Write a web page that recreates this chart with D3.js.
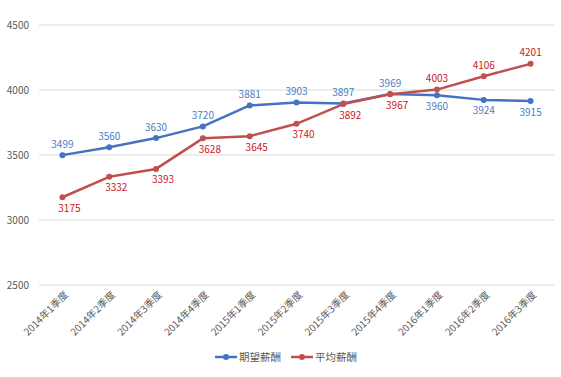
<!DOCTYPE html>
<html>
<head>
<meta charset="utf-8">
<script src="https://cdn.jsdelivr.net/npm/d3@7"></script>
<style>
  body { margin:0; background:#fff; }
  svg text { font-family: "Noto Sans CJK SC", "Noto Sans", sans-serif; }
</style>
</head>
<body>
<div id="chart"></div>
<script>
// quarterly salary line chart
const QUARTERS = ["2014年1季度","2014年2季度","2014年3季度","2014年4季度","2015年1季度","2015年2季度",
                  "2015年3季度","2015年4季度","2016年1季度","2016年2季度","2016年3季度"];
const EXPECTED = [3499,3560,3630,3720,3881,3903,3897,3969,3960,3924,3915];
const AVERAGE  = [3175,3332,3393,3628,3645,3740,3892,3967,4003,4106,4201];
const Y_TICKS  = [2500,3000,3500,4000,4500];
// label position per point: "up" above, "down" below
const EXPECTED_POS = ["up","up","up","up","up","up","up","up","down","down","down"];
const AVERAGE_POS  = ["down","down","down","down","down","down","down","down","up","up","up"];

const series = [
  { name:"期望薪酬", values:EXPECTED, pos:EXPECTED_POS, color:"#4472C4", label:"#4a7ebf" },
  { name:"平均薪酬", values:AVERAGE,  pos:AVERAGE_POS,  color:"#C0504D", label:"#c8201e" }
];

const totalW=561, totalH=377;
const margin = { top:25, right:7, bottom:92, left:39 };
const W = totalW-margin.left-margin.right, H = totalH-margin.top-margin.bottom;

const svg = d3.select("#chart").append("svg")
    .attr("width",totalW).attr("height",totalH)
    .append("g").attr("transform",`translate(${margin.left},${margin.top})`);

const x = d3.scaleBand().domain(QUARTERS).range([0,W]);
const y = d3.scaleLinear().domain([2500,4500]).range([H,0]);
const cx = d => x(d)+x.bandwidth()/2;

// gridlines
svg.append("g").selectAll("line").data(Y_TICKS).enter().append("line")
    .attr("x1",0).attr("x2",W).attr("y1",d=>y(d)).attr("y2",d=>y(d))
    .attr("stroke","#d9d9d9").attr("stroke-width",1);

// y labels
svg.append("g").selectAll("text").data(Y_TICKS).enter().append("text")
    .attr("x",-10).attr("y",d=>y(d)).attr("dy","0.35em")
    .attr("text-anchor","end").attr("fill","#595959").style("font-size","10px")
    .text(d=>d);

// x labels
svg.append("g").selectAll("text").data(QUARTERS).enter().append("text")
    .attr("transform",d=>`translate(${cx(d)+4},${H+8}) rotate(-45)`)
    .attr("text-anchor","end").attr("dy","0.35em")
    .attr("fill","#595959").style("font-size","10px")
    .text(d=>d);

const line = d3.line().x((d,i)=>cx(QUARTERS[i])).y(d=>y(d));

series.forEach(s => {
    svg.append("path").datum(s.values).attr("d",line)
        .attr("fill","none").attr("stroke",s.color).attr("stroke-width",2.5)
        .attr("stroke-linejoin","round");
    svg.append("g").selectAll("circle").data(s.values).enter().append("circle")
        .attr("cx",(d,i)=>cx(QUARTERS[i])).attr("cy",d=>y(d)).attr("r",3)
        .attr("fill",s.color);
    svg.append("g").selectAll("text").data(s.values).enter().append("text")
        .attr("x",(d,i)=>cx(QUARTERS[i]) + (s.pos[i]==="down" && s.name==="平均薪酬" ? 7 : 0))
        .attr("y",(d,i)=>y(d) + (s.pos[i]==="up" ? -11 : 11))
        .attr("dy","0.35em").attr("text-anchor","middle")
        .attr("fill",s.label).style("font-size","10px")
        .text(d=>d);
});

// legend
const legend = svg.append("g").attr("transform",`translate(0,${H+72})`);
const legendX = [176, 252];
series.forEach((s,i) => {
    const g = legend.append("g").attr("transform",`translate(${legendX[i]},0)`);
    g.append("line").attr("x1",0).attr("x2",22).attr("y1",0).attr("y2",0)
        .attr("stroke",s.color).attr("stroke-width",2.5);
    g.append("circle").attr("cx",11).attr("cy",0).attr("r",3).attr("fill",s.color);
    g.append("text").attr("x",24).attr("y",0).attr("dy","0.35em")
        .attr("fill","#595959").style("font-size","10.5px").text(s.name);
});
</script>
</body>
</html>
